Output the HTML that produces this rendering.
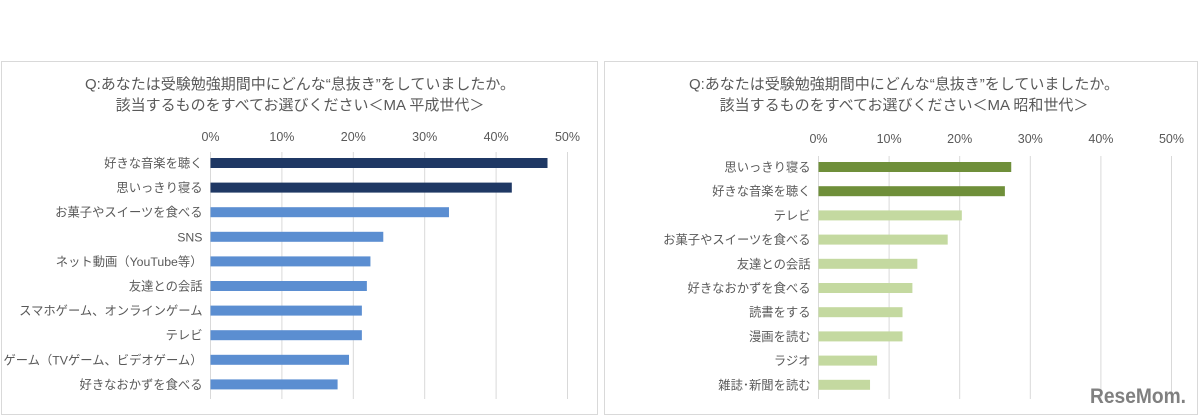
<!DOCTYPE html>
<html><head><meta charset="utf-8">
<style>
html,body{margin:0;padding:0;background:#fff;width:1200px;height:419px;overflow:hidden;}
svg text{font-family:"Liberation Sans","Noto Sans CJK JP",sans-serif;fill:#595959;}
</style></head>
<body>
<svg id="chart" width="1200" height="419" xmlns="http://www.w3.org/2000/svg">
<rect x="1.5" y="61.5" width="596" height="353" fill="#fff" stroke="#d9d9d9"/>
<rect x="604.5" y="61.5" width="593" height="353" fill="#fff" stroke="#d9d9d9"/>
<text x="300" y="89" font-size="15" text-anchor="middle">Q:あなたは受験勉強期間中にどんな“息抜き”をしていましたか。</text>
<text x="300" y="110" font-size="15" text-anchor="middle">該当するものをすべてお選びください＜MA 平成世代＞</text>
<text x="904" y="89" font-size="15" text-anchor="middle">Q:あなたは受験勉強期間中にどんな“息抜き”をしていましたか。</text>
<text x="904" y="110" font-size="15" text-anchor="middle">該当するものをすべてお選びください＜MA 昭和世代＞</text>
<g id="left"></g>
<g id="right"></g>
<text x="1090" y="403" font-size="21" font-weight="bold" style="fill:#808080" textLength="96" lengthAdjust="spacingAndGlyphs">ReseMom.</text>
</svg>
<script>
const ticks = ["0%","10%","20%","30%","40%","50%"];
const tickValues = [0,10,20,30,40,50];
const leftCategories = ["好きな音楽を聴く","思いっきり寝る","お菓子やスイーツを食べる","SNS","ネット動画（YouTube等）","友達との会話","スマホゲーム、オンラインゲーム","テレビ","ゲーム（TVゲーム、ビデオゲーム）","好きなおかずを食べる"];
const leftValues = [47.2,42.2,33.4,24.2,22.4,21.9,21.2,21.2,19.4,17.8];
const rightCategories = ["思いっきり寝る","好きな音楽を聴く","テレビ","お菓子やスイーツを食べる","友達との会話","好きなおかずを食べる","読書をする","漫画を読む","ラジオ","雑誌･新聞を読む"];
const rightValues = [27.3,26.4,20.3,18.3,14.0,13.3,11.9,11.9,8.3,7.3];
const NS="http://www.w3.org/2000/svg";
function mk(tag,attrs,parent){const e=document.createElementNS(NS,tag);for(const k in attrs)e.setAttribute(k,attrs[k]);parent.appendChild(e);return e;}
function draw(g,cats,vals,cfg){
  const x=v=>cfg.x0+(cfg.x1-cfg.x0)*v/50;
  const y=i=>cfg.yTop+cfg.step*i;
  tickValues.forEach((t,i)=>{
    const l=mk('line',{x1:x(t),x2:x(t),y1:cfg.gTop,y2:cfg.gBot,stroke:'#d9d9d9','stroke-width':1},g);
    
    
    const tx=mk('text',{x:x(t),y:cfg.tickY,'font-size':12.5,'text-anchor':'middle'},g);
    tx.textContent=ticks[i];
    
    
  });
  cats.forEach((c,i)=>{
    const r=mk('rect',{x:x(0),y:y(i)-5,width:x(vals[i])-x(0),height:10,fill:i<2?cfg.dark:cfg.light},g);
    
    
    const t=mk('text',{x:cfg.x0-8,y:y(i)+4.5,'font-size':12.3,'text-anchor':'end'},g);
    t.textContent=c;
    
    
  });
}
draw(document.getElementById('left'),leftCategories,leftValues,{x0:210.5,x1:567.5,yTop:163,step:24.6,gTop:152,gBot:399,tickY:141,dark:'#1f3864',light:'#5b8ed1'});
draw(document.getElementById('right'),rightCategories,rightValues,{x0:818.5,x1:1171.5,yTop:167,step:24.2,gTop:156,gBot:399,tickY:143,dark:'#6f8f3a',light:'#c4d9a0'});
</script>
</body></html>
